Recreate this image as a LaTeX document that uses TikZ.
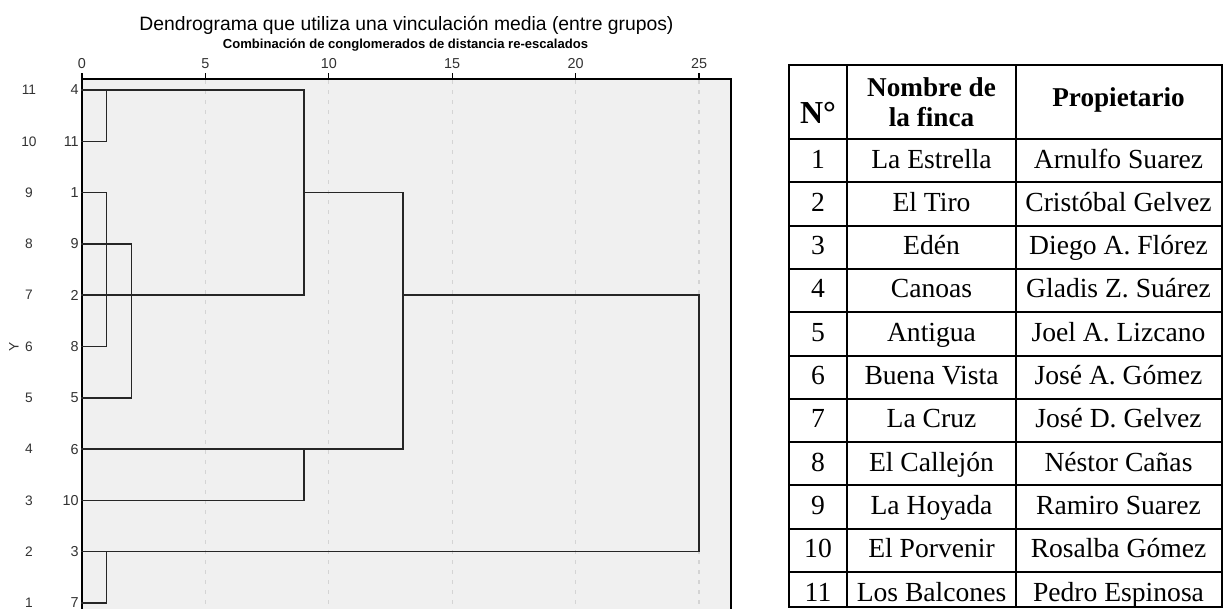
\documentclass[tikz,border=0pt]{standalone}
\usepackage{fontspec}
\setmainfont{Liberation Serif}
\newfontfamily\plotfont{Liberation Sans}
\definecolor{plotbg}{RGB}{240,240,240}
\definecolor{gridgray}{RGB}{212,212,212}
\definecolor{labgray}{RGB}{50,50,50}
\begin{document}
\begin{tikzpicture}[x=0.75pt,y=-0.75pt,
  link/.style={draw=black!85, line width=1.1pt, line cap=rect},
  frame/.style={draw=black, line width=1.1pt},
  gridline/.style={draw=gridgray, line width=0.9pt, dash pattern=on 3pt off 4.5pt},
  tick/.style={font=\plotfont\fontsize{10.8}{12}\selectfont, text=labgray, inner sep=0pt},
  leaf/.style={font=\plotfont\fontsize{10.8}{12}\selectfont, text=labgray, inner sep=0pt, anchor=east},
  rowlab/.style={font=\plotfont\fontsize{10.3}{12}\selectfont, text=labgray, inner sep=0pt},
  grid/.style={draw=black, line width=1.5pt},
  cell/.style={font=\fontsize{20.7}{24}\selectfont, inner sep=0pt, anchor=base},
  headcell/.style={font=\bfseries\fontsize{20.4}{22.5}\selectfont, inner sep=0pt, anchor=base, align=center}]
\useasboundingbox (0,0) rectangle (1223,608);

% ---------- dendrogram ----------
\begin{scope}
\clip (0,0) rectangle (1223,608);
\fill[plotbg] (82,79) rectangle (731,620);
\foreach \d in {5,10,15,20,25}
  \draw[gridline] ({82+24.68*\d},80) -- ({82+24.68*\d},620);
\draw[frame] (82,620) -- (82,79) -- (731,79) -- (731,620);
\end{scope}

% axis ticks and labels
\foreach \d in {0,5,10,15,20,25} {
  \draw[frame, line width=0.9pt] ({82+24.68*\d},79) -- ({82+24.68*\d},73);
  \node[tick] (tk\d) at ({82+24.68*\d},63.5) {\d};
}

\node[font=\plotfont\fontsize{14.5}{16}\selectfont, inner sep=0pt] (title) at (406.5,25)
  {Dendrograma que utiliza una vinculación media (entre grupos)};
\node[font=\plotfont\bfseries\fontsize{9.8}{11}\selectfont, inner sep=0pt] (subtitle) at (405.5,45.3)
  {Combinación de conglomerados de distancia re-escalados};

% leaves, case numbers and row indices
\foreach \n/\r in {4/0,11/1,1/2,9/3,2/4,8/5,5/6,6/7,10/8,3/9,7/10} {
  \pgfmathtruncatemacro\k{11-\r}
  \coordinate (L\n) at (82,{90+51.3*\r});
  \node[leaf] (lab\n) at (79,{90+51.3*\r}) {\n};
  \node[rowlab] (row\k) at (29,{90+51.3*\r}) {\k};
}
\node[rowlab, rotate=90] (yname) at (14,{90+51.3*5}) {Y};

% merge points: (distance, row)
\coordinate (a1) at ({82+24.68*1},{90+51.3*0});
\coordinate (a2) at ({82+24.68*1},{90+51.3*1});
\coordinate (b1) at ({82+24.68*1},{90+51.3*2});
\coordinate (b3) at ({82+24.68*1},{90+51.3*5});
\coordinate (c1) at ({82+24.68*2},{90+51.3*3});
\coordinate (c2) at ({82+24.68*2},{90+51.3*6});
\coordinate (d1) at ({82+24.68*9},{90+51.3*0});
\coordinate (d2) at ({82+24.68*9},{90+51.3*2});
\coordinate (d3) at ({82+24.68*9},{90+51.3*4});
\coordinate (e1) at ({82+24.68*9},{90+51.3*7});
\coordinate (e2) at ({82+24.68*9},{90+51.3*8});
\coordinate (f1) at ({82+24.68*13},{90+51.3*2});
\coordinate (f2) at ({82+24.68*13},{90+51.3*4});
\coordinate (f3) at ({82+24.68*13},{90+51.3*7});
\coordinate (g1) at ({82+24.68*1},{90+51.3*9});
\coordinate (g2) at ({82+24.68*1},{90+51.3*10});
\coordinate (h1) at ({82+24.68*25},{90+51.3*4});
\coordinate (h2) at ({82+24.68*25},{90+51.3*9});

% links
\draw[link] (L4) -- (d1) -- (d3);
\draw[link] (L11) -- (a2) -- (a1);
\draw[link] (L1) -- (b1) -- (b3) -- (L8);
\draw[link] (L2) -- (d3);
\draw[link] (L9) -- (c1) -- (c2) -- (L5);
\draw[link] (d2) -- (f1) -- (f3);
\draw[link] (L6) -- (f3);
\draw[link] (L10) -- (e2) -- (e1);
\draw[link] (f2) -- (h1) -- (h2);
\draw[link] (L3) -- (h2);
\draw[link] (L7) -- (g2) -- (g1);

% ---------- table ----------
\draw[grid] (789,65) rectangle (1221.5,606.5);
\draw[grid] (847,65) -- (847,606.5);
\draw[grid] (1016,65) -- (1016,606.5);
\draw[grid] (789,139) -- (1221.5,139);
\foreach \i in {1,...,10}
  \draw[grid] (789,{139+43.3*\i}) -- (1221.5,{139+43.3*\i});

\node[headcell, font=\bfseries\fontsize{24}{26}\selectfont] (hN) at (818,123) {N°};
\node[headcell] (hF1) at (931.5,96) {Nombre de};
\node[headcell] (hF2) at (931.5,126.5) {la finca};
\node[headcell] (hP) at (1118.5,106.5) {Propietario};

\foreach \i/\f/\p in {1/La Estrella/Arnulfo Suarez,
                      2/El Tiro/Cristóbal Gelvez,
                      3/Edén/Diego A. Flórez,
                      4/Canoas/Gladis Z. Suárez,
                      5/Antigua/Joel A. Lizcano,
                      6/Buena Vista/José A. Gómez,
                      7/La Cruz/José D. Gelvez,
                      8/El Callejón/Néstor Cañas,
                      9/La Hoyada/Ramiro Suarez,
                      10/El Porvenir/Rosalba Gómez,
                      11/Los Balcones/Pedro Espinosa} {
  \node[cell] (n\i) at (818,{139+43.3*(\i-1)+29}) {\i};
  \node[cell] (f\i) at (931.5,{139+43.3*(\i-1)+29}) {\f};
  \node[cell] (p\i) at (1118.5,{139+43.3*(\i-1)+29}) {\p};
}
\end{tikzpicture}
\end{document}
